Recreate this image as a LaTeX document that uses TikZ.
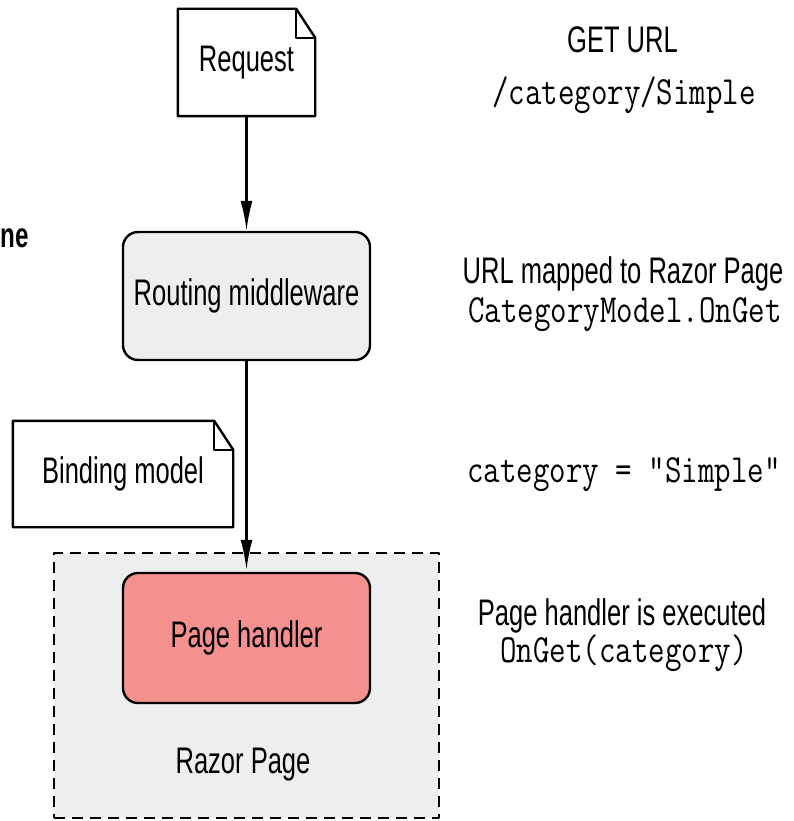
\documentclass[tikz,border=0pt]{standalone}
\usepackage{fontspec}
\setmainfont{Liberation Sans}[FakeStretch=0.69]
\setmonofont{Latin Modern Mono}[FakeStretch=0.8]
\usetikzlibrary{arrows.meta}
\definecolor{boxgray}{HTML}{EDEEF0}
\definecolor{handlerred}{HTML}{F4918E}

\tikzset{
	box/.style={draw, line width=2.4pt, rounded corners=15pt, minimum width=247pt, minimum height=128pt},
	doc/.style={inner sep=0pt},
	code/.style={font=\fontsize{40}{44}\selectfont\ttfamily},
	flow/.style={line width=2.2pt, -{Latex[length=30pt,width=12pt]}},
}
% page with a folded corner
\newcommand{\dogear}[1]{%
	\draw[line width=2.4pt] (#1.south west) -- (#1.north west) -- ([xshift=-19pt]#1.north east)
		-- ([yshift=-29pt]#1.north east) -- (#1.south east) -- cycle;
	\draw[line width=2.4pt] ([xshift=-19pt]#1.north east) |- ([yshift=-29pt]#1.north east);}

\begin{document}
\begin{tikzpicture}[x=1pt, y=-1pt, font=\fontsize{37}{42}\selectfont, line join=round]
	\useasboundingbox (0,0) rectangle (794,821);
	\def\xm{246.5} % axis of the flow

	\node[anchor=base west, inner sep=0pt, font=\fontsize{35}{40}\selectfont\bfseries] (cut) at (0.5,247) {ne};

	% left column
	\node[doc, minimum width=137pt, minimum height=107pt] (request) at (\xm,62.5) {Request};
	\dogear{request}
	\node[box, fill=boxgray] (routing) at (\xm,296) {Routing middleware};
	\node[doc, minimum width=220pt, minimum height=106pt] (binding) at (123,474) {Binding model};
	\dogear{binding}
	\node[draw, fill=boxgray, line width=2.2pt, dash pattern=on 11pt off 7pt, minimum width=385pt, minimum height=265pt] (razor) at (\xm,685.5) {};
	\node[box, fill=handlerred, minimum height=130pt] (handler) at (\xm,638) {Page handler};
	\node[anchor=base] (razorlbl) at (243,773) {Razor Page};

	\draw[flow] (request) -- (routing);
	\draw[flow, shorten >=2pt] (routing) -- (handler);

	% right column
	\node[anchor=base] (get) at (622.5,53) {GET URL};
	\node[anchor=base, code] (url) at (624,105) {/category/Simple};
	\node[anchor=base] (mapped) at (623,283) {URL mapped to Razor Page};
	\node[anchor=base, code] (model) at (625,322) {CategoryModel.OnGet};
	\node[anchor=base, code] (bind) at (624,482) {category = "Simple"};
	\node[anchor=base] (exec) at (622,625) {Page handler is executed};
	\node[anchor=base, code] (call) at (624,662) {OnGet(category)};
\end{tikzpicture}
\end{document}
